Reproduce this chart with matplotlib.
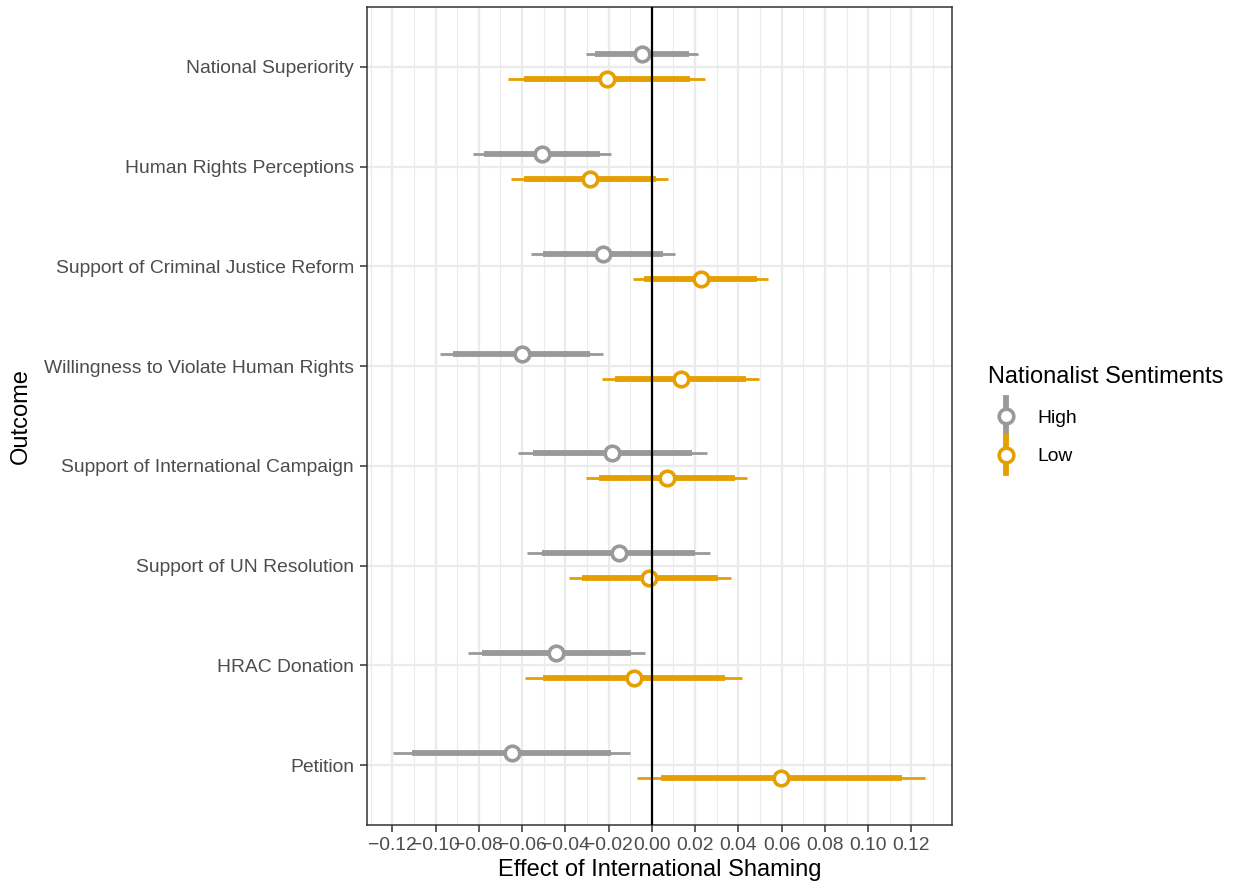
import matplotlib.pyplot as plt
import numpy as np
from matplotlib.lines import Line2D
from matplotlib.legend_handler import HandlerBase

plt.rcParams['font.family'] = ['Liberation Sans', 'DejaVu Sans']
plt.rcParams['axes.unicode_minus'] = True

# outcomes, top to bottom
outcomes = ["National Superiority", "Human Rights Perceptions",
            "Support of Criminal Justice Reform", "Willingness to Violate Human Rights",
            "Support of International Campaign", "Support of UN Resolution",
            "HRAC Donation", "Petition"]

# High nationalist sentiments
high_est = [-0.0046, -0.0510, -0.0228, -0.0602, -0.0186, -0.0154, -0.0442, -0.0648]
high_lo95 = [-0.0303, -0.0827, -0.0559, -0.0981, -0.0621, -0.0575, -0.0851, -0.1196]
high_hi95 = [0.0212, -0.0191, 0.0106, -0.0225, 0.0255, 0.0267, -0.0032, -0.0101]
high_lo90 = [-0.0262, -0.0777, -0.0504, -0.0920, -0.0549, -0.0506, -0.0784, -0.1108]
high_hi90 = [0.0172, -0.0241, 0.0053, -0.0287, 0.0186, 0.0200, -0.0097, -0.0189]

# Low nationalist sentiments
low_est = [-0.0209, -0.0288, 0.0225, 0.0133, 0.0069, -0.0011, -0.0083, 0.0598]
low_lo95 = [-0.0667, -0.0650, -0.0088, -0.0232, -0.0303, -0.0382, -0.0586, -0.0067]
low_hi95 = [0.0248, 0.0074, 0.0536, 0.0496, 0.0442, 0.0365, 0.0416, 0.1265]
low_lo90 = [-0.0593, -0.0589, -0.0037, -0.0170, -0.0242, -0.0324, -0.0504, 0.0041]
low_hi90 = [0.0175, 0.0018, 0.0485, 0.0437, 0.0384, 0.0306, 0.0336, 0.1158]

grey = "#999999"
orange = "#E69F00"

fig = plt.figure(figsize=(12.35, 8.85), dpi=100)
ax = fig.add_axes([0.2968, 0.0678, 0.4741, 0.9243])

ypos = np.arange(len(outcomes), 0, -1)
offset = 0.125

for est, lo95, hi95, lo90, hi90, col, dy in [
        (high_est, high_lo95, high_hi95, high_lo90, high_hi90, grey, offset),
        (low_est, low_lo95, low_hi95, low_lo90, low_hi90, orange, -offset)]:
    y = ypos + dy
    ax.hlines(y, lo95, hi95, color=col, lw=2.0, zorder=3)
    ax.hlines(y, lo90, hi90, color=col, lw=4.2, zorder=3)
    ax.plot(est, y, 'o', ms=10.5, mfc='white', mec=col, mew=2.6, zorder=4, ls='none')

ax.axvline(0, color='black', lw=1.6, zorder=5)

ax.set_xlim(-0.1319, 0.1388)
ax.set_ylim(0.4, 8.6)
xt = np.round(np.arange(-0.12, 0.121, 0.02), 2)
ax.set_xticks(xt)
ax.set_xticklabels([f"{v:.2f}".replace("-", "\u2212") for v in xt])
ax.set_xticks(np.round(np.arange(-0.13, 0.131, 0.01), 2), minor=True)
ax.set_yticks(ypos)
ax.set_yticklabels(outcomes)

ax.grid(which='major', color='#EBEBEB', lw=1.6, zorder=0)
ax.grid(which='minor', axis='x', color='#EBEBEB', lw=0.8, zorder=0)
ax.set_axisbelow(True)
ax.tick_params(axis='both', which='major', labelsize=13.9, labelcolor='#4D4D4D',
               color='#333333', length=5, width=1.1, pad=4)
ax.tick_params(axis='x', which='minor', length=0)
for s in ax.spines.values():
    s.set_color('#333333')
    s.set_linewidth(1.1)

ax.set_xlabel("Effect of International Shaming", fontsize=17, labelpad=3)
fig.text(0.017, 0.530, "Outcome", rotation=90, fontsize=17, ha='center', va='center')


class PointRangeHandler(HandlerBase):
    def create_artists(self, legend, orig_handle, xdescent, ydescent,
                       width, height, fontsize, trans):
        col = orig_handle.get_color()
        cx = width / 2 - xdescent
        cy = height / 2 - ydescent
        vline = Line2D([cx, cx], [cy - 13, cy + 13], color=col, lw=4.2, transform=trans)
        pt = Line2D([cx], [cy], marker='o', ms=10.5, mfc='white', mec=col, mew=2.6,
                    ls='none', transform=trans)
        return [vline, pt]


handles = [Line2D([], [], color=grey), Line2D([], [], color=orange)]
leg = fig.legend(handles, ["High", "Low"], title="Nationalist Sentiments",
                 handler_map={Line2D: PointRangeHandler()},
                 loc='upper left', bbox_to_anchor=(0.794, 0.595),
                 frameon=False, fontsize=13.9, title_fontsize=17,
                 handlelength=1.87, handleheight=1.9, labelspacing=0.5,
                 handletextpad=0.68, borderaxespad=0)
leg._legend_box.align = "left"
leg._legend_box.sep = 10

fig.savefig("out.png", dpi=100)
